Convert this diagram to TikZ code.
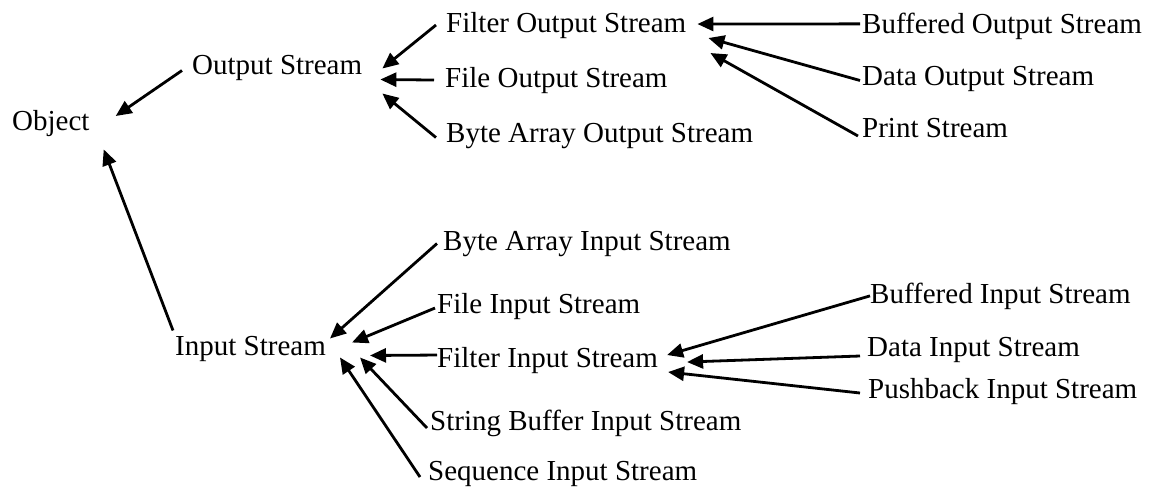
\documentclass[tikz,border=0pt]{standalone}
\usepackage{fontspec}
\setmainfont{Liberation Serif}
\usetikzlibrary{arrows.meta}
\begin{document}
\begin{tikzpicture}[x=1pt,y=-1pt,
  lbl/.style={anchor=base west,inner sep=0pt,font=\fontsize{29}{34}\selectfont},
  arr/.style={line width=2.8pt,-{Triangle[length=16pt,width=14pt]}}]
\useasboundingbox (0,0) rectangle (1156,488);

% class names
\node[lbl] (obj)   at (12,130)  {Object};
\node[lbl] (os)    at (192,74)  {Output Stream};
\node[lbl] (ins)   at (175,355) {Input Stream};

\node[lbl] (fos)   at (446,32)  {Filter Output Stream};
\node[lbl] (fios)  at (445,87)  {File Output Stream};
\node[lbl] (baos)  at (446,142) {Byte Array Output Stream};

\node[lbl] (bos)   at (862,33)  {Buffered Output Stream};
\node[lbl] (dos)   at (862,85)  {Data Output Stream};
\node[lbl] (ps)    at (862,137) {Print Stream};

\node[lbl] (bais)  at (443,250) {Byte Array Input Stream};
\node[lbl] (fis)   at (437,313) {File Input Stream};
\node[lbl] (filis) at (437,367) {Filter Input Stream};
\node[lbl] (sbis)  at (430,430) {String Buffer Input Stream};
\node[lbl] (seqis) at (428,480) {Sequence Input Stream};

\node[lbl] (bis)   at (870,303) {Buffered Input Stream};
\node[lbl] (dis)   at (867,356) {Data Input Stream};
\node[lbl] (pis)   at (868,398) {Pushback Input Stream};

% inheritance arrows, child -> parent
\draw[arr] ([shift={(-10,3)}]os.west)  -- ([shift={(26,-7)}]obj.east);
\draw[arr] ([shift={(-2,-18)}]ins.west) -- ([shift={(14,13)}]obj.south east);

\draw[arr] ([shift={(-10,0)}]fos.west)  -- ([shift={(20,1)}]os.east);
\draw[arr] ([shift={(-11,0)}]fios.west) -- ([shift={(18,12)}]os.east);
\draw[arr] ([shift={(-10,2)}]baos.west) -- ([shift={(20,26)}]os.east);

\draw[arr] ([shift={(-2,-2)}]bos.west)     -- ([shift={(11,-1)}]fos.east);
\draw[arr] ([shift={(-2,2)}]dos.west)      -- ([shift={(22,13)}]fos.east);
\draw[arr] ([shift={(-4,-1)}]ps.base west) -- ([shift={(24,28)}]fos.east);

\draw[arr] ([shift={(-6,0)}]bais.west)       -- ([shift={(4,-10)}]ins.east);
\draw[arr] ([shift={(-2,2)}]fis.west)        -- ([shift={(26,-6)}]ins.east);
\draw[arr] ([shift={(0,-5)}]filis.west)      -- ([shift={(44,7)}]ins.east);
\draw[arr] ([shift={(-3,-2)}]sbis.base west) -- ([shift={(34,9)}]ins.east);
\draw[arr] ([shift={(-8,-3)}]seqis.base west) -- ([shift={(14,9)}]ins.east);

\draw[arr] (bis.west)                       -- ([shift={(9,-5)}]filis.east);
\draw[arr] ([shift={(-7,0)}]dis.base west)  -- ([shift={(29,2)}]filis.east);
\draw[arr] ([shift={(-8,-5)}]pis.base west) -- ([shift={(10,12)}]filis.east);
\end{tikzpicture}
\end{document}
